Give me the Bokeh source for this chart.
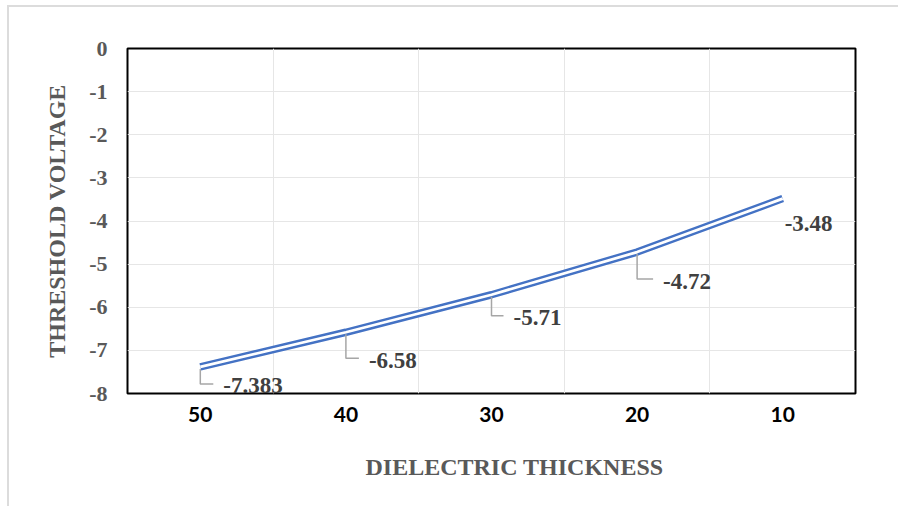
from bokeh.plotting import figure
from bokeh.models import FixedTicker, Range1d, ColumnDataSource, Title
from bokeh.core.properties import value
from bokeh.embed import file_html
from bokeh.resources import INLINE

# Threshold voltage vs. dielectric thickness
thickness = [50, 40, 30, 20, 10]
voltage = [-7.383, -6.58, -5.71, -4.72, -3.48]
y_ticks = [0, -1, -2, -3, -4, -5, -6, -7, -8]

# hand-placed data-label offsets (screen pixels, right / down from each point)
label_dx = [23, 23, 22, 26, 2]
label_dy = [19, 28, 23, 29, 25]

W, H = 891, 501
ML, MR, MT, MB = 118, 45, 41, 115
x_lo, x_hi = -0.5, len(thickness) - 0.5
y_lo, y_hi = -8, 0
px_x = (W - ML - MR) / (x_hi - x_lo)
px_y = (H - MT - MB) / (y_hi - y_lo)

xs = list(range(len(thickness)))

p = figure(width=W, height=H, output_backend="svg", toolbar_location=None,
           x_range=Range1d(x_lo, x_hi), y_range=Range1d(y_lo, y_hi),
           min_border_left=ML, min_border_right=MR, min_border_top=MT,
           min_border_bottom=MB)
p.styles = {"margin-left": "7px", "margin-top": "5px",
            "border-left": "2px solid #dcdcdc", "border-top": "2px solid #dcdcdc"}

p.outline_line_color = "black"
p.outline_line_width = 2
p.background_fill_color = "white"
p.border_fill_color = "white"

# grid
p.xgrid.ticker = FixedTicker(ticks=[i + 0.5 for i in xs[:-1]])
p.ygrid.ticker = FixedTicker(ticks=y_ticks[1:-1])
for g in (p.xgrid, p.ygrid):
    g.grid_line_color = "#e6e6e6"
    g.grid_line_width = 1

# x axis
p.xaxis.ticker = FixedTicker(ticks=xs)
p.xaxis.major_label_overrides = {i: str(t) for i, t in zip(xs, thickness)}
p.xaxis.major_label_text_font = "Lato"
p.xaxis.major_label_text_font_style = "bold"
p.xaxis.major_label_text_font_size = "21px"
p.xaxis.major_label_text_color = "black"
p.xaxis.major_label_standoff = 13

# y axis
p.yaxis.ticker = FixedTicker(ticks=y_ticks)
p.yaxis.major_label_overrides = {t: str(t) for t in y_ticks}
p.yaxis.axis_label = "THRESHOLD VOLTAGE"
p.yaxis.major_label_text_font = "Liberation Serif"
p.yaxis.major_label_text_font_style = "bold"
p.yaxis.major_label_text_font_size = "22px"
p.yaxis.major_label_text_color = "#595959"
p.yaxis.major_label_standoff = 20

for ax in (p.xaxis, p.yaxis):
    ax.axis_line_color = None
    ax.major_tick_line_color = None
    ax.minor_tick_line_color = None
    ax.major_tick_out = 0
    ax.major_tick_in = 0
    ax.axis_label_text_font = "Liberation Serif"
    ax.axis_label_text_font_style = "bold"
    ax.axis_label_text_font_size = "24px"
    ax.axis_label_text_color = "#595959"
p.yaxis.axis_label_standoff = 16

# x axis title, placed a little right of the frame centre
x_title = Title(text="DIELECTRIC THICKNESS", align="left", offset=238,
                standoff=55, text_font="Liberation Serif", text_font_style="bold",
                text_font_size="24px", text_color="#595959")
p.add_layout(x_title, "below")

src = ColumnDataSource(dict(x=xs, y=voltage, lbl=[str(v) for v in voltage],
                            dx=label_dx, dy=label_dy))

# double-stroke series line
p.line("x", "y", source=src, line_color="#4472c4", line_width=7.5)
p.line("x", "y", source=src, line_color="white", line_width=2.8)

# leader lines from points to their labels
lx, ly = [], []
for x, y, dx, dy in zip(xs, voltage, label_dx, label_dy):
    if dx > 10:
        lx.append([x, x, x + (dx - 10) / px_x])
        ly.append([y - 2 / px_y, y - (dy - 2) / px_y, y - (dy - 2) / px_y])
p.multi_line(lx, ly, line_color="#a6a6a6", line_width=1.5)

p.text("x", "y", text="lbl", source=src, x_offset="dx", y_offset="dy",
       text_font=value("Liberation Serif"), text_font_style="bold",
       text_font_size="23px", text_color="#404040",
       text_align="left", text_baseline="middle")

open("out.html", "w").write(file_html(p, INLINE))
